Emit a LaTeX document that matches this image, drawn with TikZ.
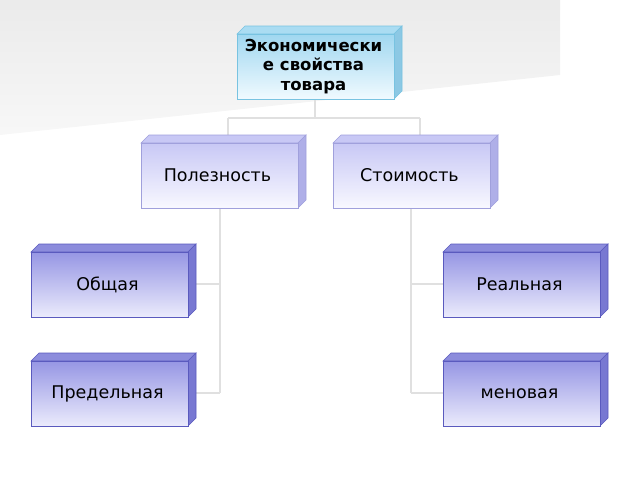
\documentclass[tikz,border=0pt]{standalone}
\usepackage{fontspec}
\setmainfont{DejaVu Sans}
\definecolor{lowtop}{RGB}{150,150,228}
\definecolor{lowbot}{RGB}{235,235,252}
\definecolor{lowbrd}{RGB}{90,90,190}
\definecolor{lowside}{RGB}{120,120,210}
\definecolor{lowtf}{RGB}{140,140,220}
\definecolor{midtop}{RGB}{200,200,245}
\definecolor{midbot}{RGB}{248,248,255}
\definecolor{midbrd}{RGB}{160,160,220}
\definecolor{midside}{RGB}{175,175,232}
\definecolor{midtf}{RGB}{200,200,245}
\definecolor{toptop}{RGB}{160,215,240}
\definecolor{topbot}{RGB}{240,250,255}
\definecolor{topbrd}{RGB}{120,195,225}
\definecolor{topside}{RGB}{140,200,228}
\definecolor{toptf}{RGB}{170,220,242}
\begin{document}
\begin{tikzpicture}[x=1pt,y=-1pt,
  conn/.style={draw=black!12,line width=2.5pt},
  lbl/.style={font=\fontsize{17.5}{20}\selectfont,text=black}]
\useasboundingbox (0,0) rectangle (640,480);
\shade[top color=black!8,bottom color=black!3] (0,0) -- (560,0) -- (560,75) -- (0,135) -- cycle;
% connectors
\draw[conn] (315,99) -- (315,118);
\draw[conn] (228,118) -- (420,118);
\draw[conn] (228,118) -- (228,143);
\draw[conn] (420,118) -- (420,143);
\draw[conn] (220,208) -- (220,393);
\draw[conn] (220,284) -- (188,284);
\draw[conn] (220,393) -- (188,393);
\draw[conn] (411,208) -- (411,393);
\draw[conn] (411,284) -- (443,284);
\draw[conn] (411,393) -- (443,393);
\newcommand{\mybox}[9]{%
 \fill[#8,draw=#6,line width=0.6pt] (#2,#3) -- ++(8,-8) -- ++(157,0) -- ++(-8,8) -- cycle;
 \fill[#7,draw=#6,line width=0.6pt] (#2+157,#3) -- ++(8,-8) -- ++(0,65) -- ++(-8,8) -- cycle;
 \shade[top color=#4,bottom color=#5,draw=#6,line width=0.6pt] (#2,#3) rectangle ++(157,65);
 \node[lbl,align=center,text width=160pt,inner sep=0pt] (#1) at (#2+76.5,#3+32.5) {#9};}
\mybox{top}{237}{34}{toptop}{topbot}{topbrd}{topside}{toptf}{\fontsize{16.5}{19.5}\selectfont\bfseries Экономически\\е свойства\\товара}
\mybox{pol}{141}{143}{midtop}{midbot}{midbrd}{midside}{midtf}{Полезность}
\mybox{sto}{333}{143}{midtop}{midbot}{midbrd}{midside}{midtf}{Стоимость}
\mybox{ob}{31}{252}{lowtop}{lowbot}{lowbrd}{lowside}{lowtf}{Общая}
\mybox{pr}{31}{361}{lowtop}{lowbot}{lowbrd}{lowside}{lowtf}{Предельная}
\mybox{re}{443}{252}{lowtop}{lowbot}{lowbrd}{lowside}{lowtf}{Реальная}
\mybox{me}{443}{361}{lowtop}{lowbot}{lowbrd}{lowside}{lowtf}{меновая}
\end{tikzpicture}
\end{document}
